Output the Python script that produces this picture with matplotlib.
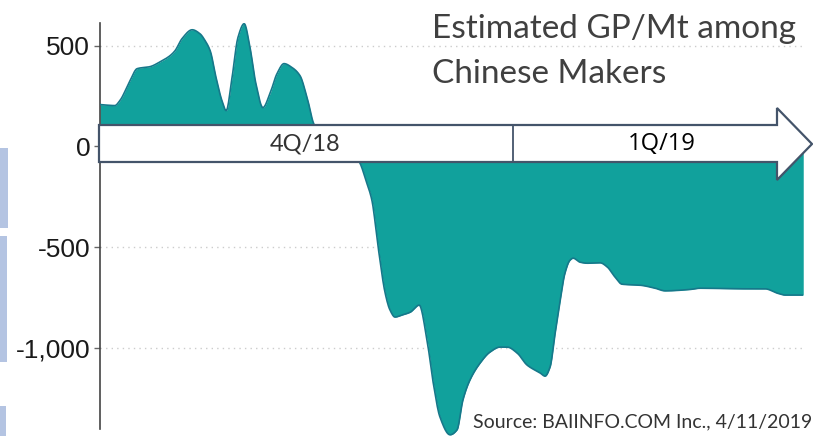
import numpy as np
import matplotlib.pyplot as plt
from matplotlib.patches import Polygon, Rectangle

# Estimated gross profit per tonne, Chinese makers
days = [0, 3.8, 5.1, 7.7, 9.5, 12.8, 15.4, 17.9, 19.2, 21.0, 23.6, 25.6, 26.9,
        28.2, 29.7, 31.2, 32.3, 33.8, 35.3, 36.9, 38.4, 39.9, 41.7, 43.5, 45.3,
        47.1, 49.2, 51.2, 53.0, 55.0, 56.8, 59.4, 61.4, 64.0, 66.6, 68.1, 69.6,
        71.2, 73.0, 74.2, 75.5, 77.3, 79.4, 81.7, 83.7, 85.3, 87.0, 89.6, 91.4,
        92.9, 94.7, 97.3, 99.8, 102.4, 104.2, 106.8, 109.3, 112.7, 113.9, 115.2,
        116.5, 117.8, 119.0, 120.3, 121.1, 122.9, 124.7, 128.0, 129.8, 131.8,
        133.6, 138.2, 142.1, 144.6, 151.1, 153.6, 163.9, 170.2, 173.6, 175.4, 180]
gp_per_mt = [208, 203, 228, 327, 386, 396, 420, 450, 475, 535, 579, 559, 525,
             475, 342, 228, 178, 342, 540, 609, 490, 312, 193, 262, 361,
             411, 391, 351, 243, 104, 90, 105, 60, -10, -85, -170, -267,
             -500, -728, -810, -846, -836, -822, -787, -960, -1173, -1341, -1430, -1405,
             -1257, -1158, -1074, -1020, -995, -995, -1025, -1084, -1124, -1139, -1094,
             -926, -762, -629, -564, -554, -574, -579, -577, -597, -647,
             -683, -688, -703, -716, -709, -703, -706, -706, -729, -737, -737]

yticks = [500, 0, -500, -1000]
ytick_labels = ["500", "0", "-500", "-1,000"]
periods = ["4Q/18", "1Q/19"]

title_lines = ["Estimated GP/Mt among", "Chinese Makers"]
source = "Source: BAIINFO.COM Inc., 4/11/2019"

TEAL = "#11a19c"
EDGE = "#16788a"
ARROW = "#44546a"


def pchip(x, y, xs):
    """ monotone cubic curve through the points, like the original smoothing """
    x = np.asarray(x, float)
    y = np.asarray(y, float)
    h = np.diff(x)
    d = np.diff(y) / h
    m = np.zeros_like(y)
    m[0], m[-1] = d[0], d[-1]
    for k in range(1, len(x) - 1):
        if d[k - 1] * d[k] > 0:
            w1 = 2 * h[k] + h[k - 1]
            w2 = h[k] + 2 * h[k - 1]
            m[k] = (w1 + w2) / (w1 / d[k - 1] + w2 / d[k])
    i = np.clip(np.searchsorted(x, xs) - 1, 0, len(x) - 2)
    t = (xs - x[i]) / h[i]
    h00 = 2 * t**3 - 3 * t**2 + 1
    h10 = t**3 - 2 * t**2 + t
    h01 = -2 * t**3 + 3 * t**2
    h11 = t**3 - t**2
    return h00 * y[i] + h10 * h[i] * m[i] + h01 * y[i + 1] + h11 * h[i] * m[i + 1]


fig = plt.figure(figsize=(8.13, 4.36), dpi=100)
ax = fig.add_axes([0.123, 0.0, 0.865, 0.947])

xs = np.linspace(days[0], days[-1], 1500)
ys = pchip(days, gp_per_mt, xs)
ax.fill_between(xs, ys, 0, color=TEAL, lw=0, zorder=2)
ax.plot(xs, ys, color=EDGE, lw=1.2, zorder=3)

ax.set_xlim(days[0], days[-1])
ax.set_ylim(-1436, 612)

# axis styling
for s in ["top", "right", "bottom"]:
    ax.spines[s].set_visible(False)
ax.spines["left"].set_color("#444444")
ax.spines["left"].set_linewidth(1.2)
ax.spines["left"].set_bounds(-1401, 612)
ax.set_xticks([])
ax.set_yticks(yticks)
ax.set_yticklabels(ytick_labels, fontsize=19, family="Liberation Sans", color="#1a1a1a")
ax.tick_params(axis="y", length=4, width=1, color="#666666", pad=3)
ax.grid(axis="y", color="#cccccc", linestyle=(0, (1, 3)), lw=1, zorder=1)
ax.set_axisbelow(True)

# the quarter arrow, drawn in figure coordinates
W, H = 813.0, 436.0
pts = [(99, 125), (777, 125), (777, 108), (812, 144), (777, 180), (777, 162), (99, 162)]
arrow = Polygon([(px / W, 1 - py / H) for px, py in pts], closed=True,
                facecolor="white", edgecolor=ARROW, lw=1.6, zorder=5,
                transform=fig.transFigure)
fig.patches.append(arrow)
fig.lines.append(plt.Line2D([513 / W, 513 / W], [1 - 125 / H, 1 - 162 / H],
                            color=ARROW, lw=1.3, transform=fig.transFigure, zorder=6))

fig.text(305 / W, 1 - 144 / H, periods[0], fontsize=17, family="Lato",
         color="#333333", ha="center", va="center", zorder=7)
fig.text(662 / W, 1 - 144 / H, periods[1], fontsize=17, family="Open Sans",
         color="black", ha="center", va="center", zorder=7)

# title and source
for line, base in zip(title_lines, [38, 83]):
    fig.text(432 / W, 1 - base / H, line, fontsize=24, family="Lato", color="#404040",
             ha="left", va="baseline")
fig.text(812 / W, 1 - 427 / H, source, fontsize=14, family="Lato", color="#333333",
         ha="right", va="baseline", zorder=8)

# pale blue watermark strip on the left edge
for (x0, y0, w, h) in [(0, 148, 8, 80), (0, 236, 7, 126), (0, 406, 6, 30)]:
    fig.patches.append(Rectangle((x0 / W, 1 - (y0 + h) / H), w / W, h / H,
                                 facecolor="#b4c4e2", edgecolor="none",
                                 transform=fig.transFigure))

fig.savefig("out.png", dpi=100)
